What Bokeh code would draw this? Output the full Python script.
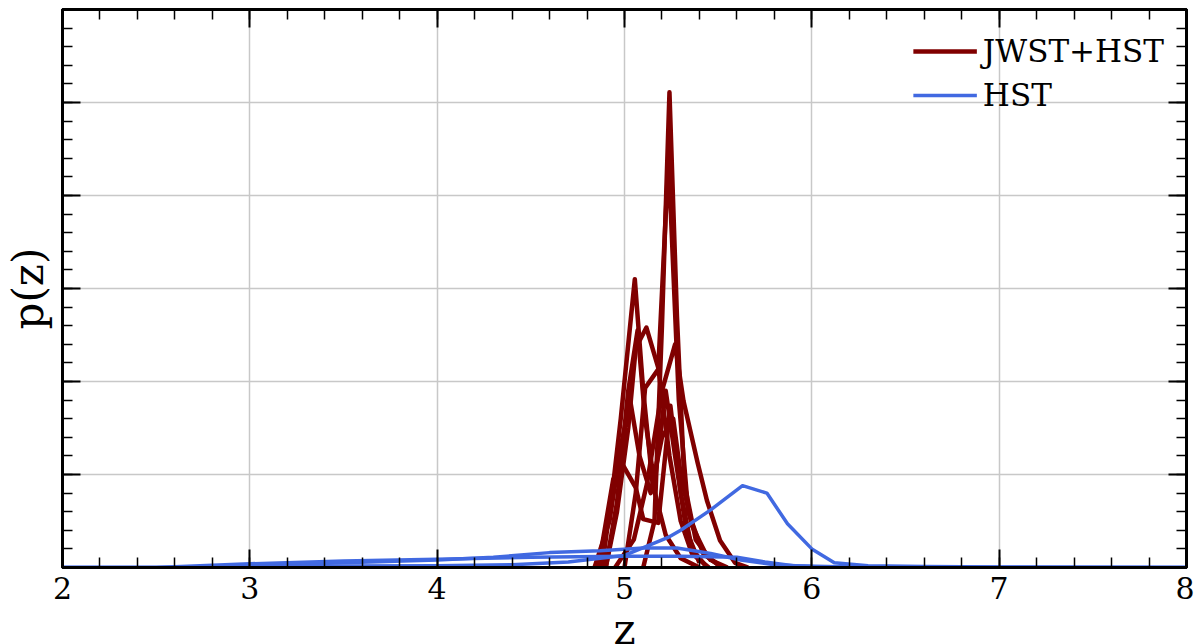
from bokeh.plotting import figure
from bokeh.models import Range1d, LinearAxis, SingleIntervalTicker, Legend, LegendItem
from bokeh.embed import file_html
from bokeh.resources import INLINE

# ---------------- data ----------------
x_ticks = [2, 3, 4, 5, 6, 7, 8]

# JWST+HST p(z) curves
r1_z = [5.10, 5.16, 5.20, 5.24, 5.28, 5.32, 5.38, 5.46, 5.55]
r1_p = [0.0, 0.5, 2.6, 5.11, 2.7, 0.9, 0.3, 0.08, 0.0]

r2_z = [5.00, 5.06, 5.11, 5.18, 5.235, 5.29, 5.34, 5.42, 5.52]
r2_p = [0.0, 0.8, 1.93, 2.13, 4.4, 1.8, 0.6, 0.15, 0.0]

r3_z = [4.88, 4.94, 4.98, 5.055, 5.10, 5.15, 5.22, 5.30, 5.40]
r3_p = [0.0, 0.9, 1.6, 3.10, 1.9, 0.9, 0.35, 0.1, 0.0]

r4_z = [4.90, 4.96, 5.02, 5.06, 5.117, 5.18, 5.24, 5.30, 5.36, 5.45]
r4_p = [0.0, 0.6, 1.5, 2.36, 2.58, 2.15, 1.2, 0.5, 0.15, 0.0]

r5_z = [4.86, 4.94, 4.995, 5.06, 5.10, 5.18, 5.245, 5.30, 5.36, 5.44]
r5_p = [0.0, 0.95, 1.09, 0.86, 0.52, 0.48, 1.74, 0.8, 0.2, 0.0]

r6_z = [4.90, 4.96, 5.02, 5.07, 5.11, 5.16, 5.22, 5.27, 5.33, 5.40]
r6_p = [0.0, 0.7, 1.9, 2.55, 1.6, 0.9, 1.9, 1.2, 0.4, 0.05]

r7_z = [4.95, 5.05, 5.12, 5.20, 5.27, 5.315, 5.39, 5.44, 5.51, 5.59, 5.66]
r7_p = [0.0, 0.3, 0.9, 1.9, 2.4, 1.79, 1.13, 0.72, 0.29, 0.05, 0.0]

r8_z = [4.84, 4.92, 4.98, 5.03, 5.08, 5.14, 5.20, 5.26, 5.30, 5.36, 5.44, 5.52]
r8_p = [0.0, 0.5, 1.3, 1.8, 1.2, 0.8, 1.4, 1.6, 1.0, 0.45, 0.12, 0.0]

# HST p(z) curves
b1_z = [2.0, 2.5, 3.0, 3.5, 4.0, 4.4, 4.7, 4.87, 5.0, 5.23, 5.30, 5.46, 5.63, 5.76, 5.87, 6.0, 6.12, 6.3, 6.6, 7.0, 8.0]
b1_p = [0.0, 0.0, 0.01, 0.015, 0.02, 0.03, 0.06, 0.10, 0.13, 0.32, 0.40, 0.62, 0.88, 0.80, 0.47, 0.20, 0.05, 0.02, 0.01, 0.005, 0.0]

b2_z = [2.0, 2.6, 3.0, 3.5, 4.0, 4.3, 4.6, 4.87, 5.10, 5.28, 5.46, 5.62, 5.8, 6.0, 6.5, 8.0]
b2_p = [0.0, 0.0, 0.02, 0.05, 0.08, 0.11, 0.16, 0.18, 0.21, 0.21, 0.15, 0.08, 0.03, 0.01, 0.0, 0.0]

b3_z = [2.0, 2.5, 3.0, 3.5, 4.0, 4.5, 5.0, 5.3, 5.6, 5.75, 5.9, 6.2, 7.0, 8.0]
b3_p = [0.0, 0.0, 0.04, 0.07, 0.09, 0.11, 0.12, 0.12, 0.11, 0.06, 0.02, 0.005, 0.0, 0.0]

red_curves = [(r1_z, r1_p), (r2_z, r2_p), (r3_z, r3_p), (r4_z, r4_p),
              (r5_z, r5_p), (r6_z, r6_p), (r7_z, r7_p), (r8_z, r8_p)]
blue_curves = [(b1_z, b1_p), (b2_z, b2_p), (b3_z, b3_p)]

RED = "#800000"
BLUE = "#4169E1"
SERIF = "DejaVu Serif"

# ---------------- figure ----------------
p = figure(frame_width=1124, frame_height=558, output_backend="svg",
           toolbar_location=None, x_range=Range1d(2, 8), y_range=Range1d(0, 6),
           min_border_left=62, min_border_right=8, min_border_top=9, min_border_bottom=10,
           x_axis_label="z", y_axis_label="p(z)")
p.background_fill_color = "white"
p.border_fill_color = "white"
p.outline_line_color = "black"
p.outline_line_width = 3

xt = SingleIntervalTicker(interval=1, num_minor_ticks=5)
yt = SingleIntervalTicker(interval=1, num_minor_ticks=5)
p.xaxis.ticker = xt
p.yaxis.ticker = yt
p.xgrid.ticker = xt
p.ygrid.ticker = yt
for g in (p.xgrid, p.ygrid):
    g.grid_line_color = "#c8c8c8"
    g.grid_line_width = 1.5

def style_axis(ax, labels=True):
    ax.axis_line_width = 3
    ax.axis_line_color = "black"
    ax.major_tick_in = 18
    ax.major_tick_out = 0
    ax.minor_tick_in = 10
    ax.minor_tick_out = 0
    ax.major_tick_line_width = 2
    ax.minor_tick_line_width = 1.5
    ax.major_tick_line_color = "black"
    ax.minor_tick_line_color = "black"
    ax.axis_label_text_font = SERIF
    ax.axis_label_text_font_style = "normal"
    ax.axis_label_text_font_size = "42px"
    ax.axis_label_text_color = "black"
    ax.major_label_text_font = SERIF
    ax.major_label_text_color = "black"
    if labels:
        ax.major_label_text_font_size = "30px"
        ax.major_label_standoff = 9
    else:
        ax.major_label_text_font_size = "0px"
        ax.major_label_standoff = 0

style_axis(p.xaxis[0], True)
p.xaxis[0].axis_label_standoff = 3
style_axis(p.yaxis[0], False)
p.yaxis[0].axis_label_standoff = 10

top_ax = LinearAxis(ticker=SingleIntervalTicker(interval=1, num_minor_ticks=5))
style_axis(top_ax, False)
p.add_layout(top_ax, "above")
right_ax = LinearAxis(ticker=SingleIntervalTicker(interval=1, num_minor_ticks=5))
style_axis(right_ax, False)
p.add_layout(right_ax, "right")

red_renderers = []
for zz, pp in red_curves:
    red_renderers.append(p.line(zz, pp, line_color=RED, line_width=4.5, line_join="round"))
blue_renderers = []
for zz, pp in blue_curves:
    blue_renderers.append(p.line(zz, pp, line_color=BLUE, line_width=3.5, line_join="round"))

legend = Legend(items=[LegendItem(label="JWST+HST", renderers=[red_renderers[0]]),
                       LegendItem(label="HST", renderers=[blue_renderers[0]])],
                location="top_right")
legend.label_text_font = SERIF
legend.label_text_font_size = "31px"
legend.label_text_color = "black"
legend.glyph_width = 64
legend.glyph_height = 40
legend.label_height = 40
legend.spacing = 4
legend.label_standoff = 6
legend.padding = 4
legend.margin = 18
legend.border_line_alpha = 0
legend.background_fill_alpha = 0
p.add_layout(legend, "center")

open("out.html", "w").write(file_html(p, INLINE))
